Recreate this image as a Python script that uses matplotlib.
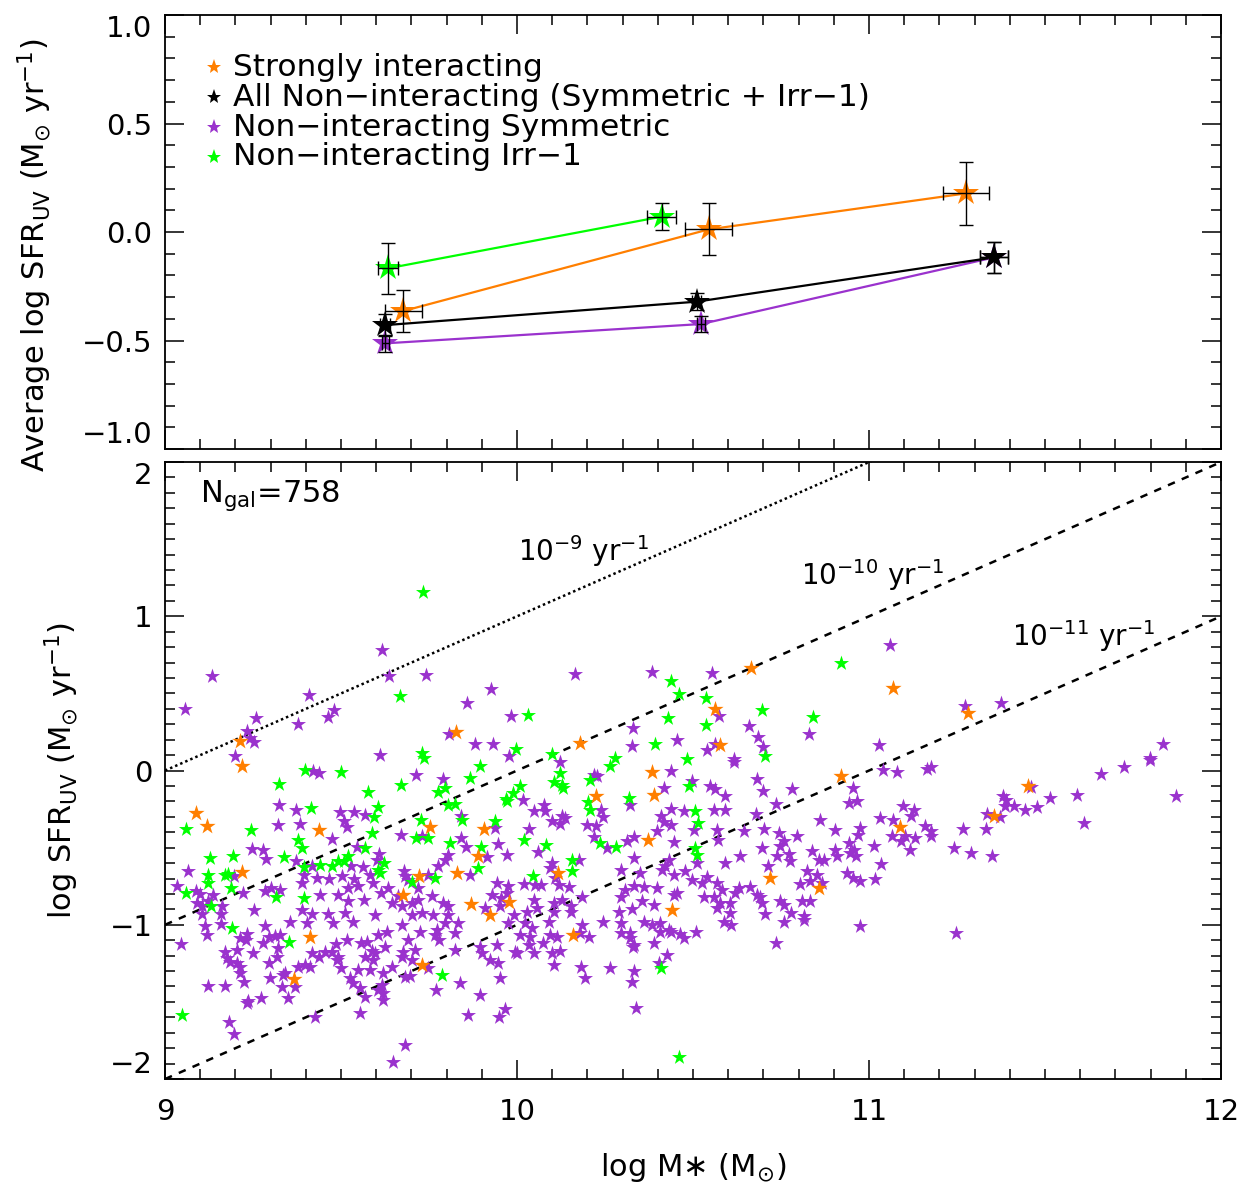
import matplotlib
matplotlib.use("Agg")
import matplotlib.pyplot as plt
import numpy as np

# ---- top panel: binned averages ----
int_mass = [9.677, 10.544, 11.275]
int_sfr = [-0.364, 0.012, 0.178]
int_xerr = [0.053, 0.066, 0.066]
int_yerr = [0.098, 0.12, 0.145]

all_mass = [9.625, 10.510, 11.355]
all_sfr = [-0.429, -0.321, -0.117]
all_xerr = [0.015, 0.012, 0.039]
all_yerr = [0.049, 0.04, 0.071]

sym_mass = [9.625, 10.523, 11.355]
sym_sfr = [-0.513, -0.424, -0.117]
sym_xerr = [0.01, 0.012, 0.039]
sym_yerr = [0.04, 0.038, 0.071]

irr_mass = [9.634, 10.411]
irr_sfr = [-0.167, 0.071]
irr_xerr = [0.028, 0.041]
irr_yerr = [0.118, 0.061]

# ---- bottom panel: individual galaxies (log M*, log SFR_UV) ----
gal_int = [
    (9.212, 0.192), (9.826, 0.249), (10.665, 0.662), (10.563, 0.396), (10.180, 0.179),
    (10.576, 0.166), (11.068, 0.536), (11.282, 0.370), (9.218, 0.032), (9.087, -0.275),
    (9.119, -0.359), (9.438, -0.383), (9.753, -0.366), (9.907, -0.379), (9.218, -0.660),
    (9.888, -0.552), (9.830, -0.664), (9.722, -0.686), (9.676, -0.805), (9.869, -0.864),
    (9.923, -0.935), (9.978, -0.853), (10.384, -0.007), (10.919, -0.033), (10.388, -0.156),
    (10.223, -0.163), (10.371, -0.448), (10.720, -0.697), (10.857, -0.762), (10.116, -0.665),
    (10.440, -0.907), (11.451, -0.098), (11.356, -0.293), (11.087, -0.366), (9.412, -1.076),
    (9.367, -1.353), (9.729, -1.260), (10.159, -1.065),
]

gal_irr = [
    (9.733, 1.156), (9.668, 0.482), (9.731, 0.114), (9.737, 0.082), (9.996, 0.140),
    (10.919, 0.699), (10.438, 0.580), (10.461, 0.497), (10.538, 0.469), (10.697, 0.391),
    (10.841, 0.348), (10.030, 0.357), (10.429, 0.342), (10.536, 0.296), (10.392, 0.175),
    (10.705, 0.093), (10.098, 0.106), (10.277, 0.082), (10.483, 0.075),
    (9.398, 0.002), (9.499, -0.011), (9.894, 0.028), (9.865, -0.048), (9.324, -0.084),
    (9.669, -0.091), (9.576, -0.139), (9.775, -0.139), (9.795, -0.113), (9.415, -0.242),
    (9.059, -0.379), (9.244, -0.388), (9.604, -0.236), (9.595, -0.301), (9.587, -0.405),
    (9.968, -0.184), (9.989, -0.145), (9.971, -0.199), (9.803, -0.221), (9.824, -0.214),
    (9.843, -0.318), (9.727, -0.318), (9.936, -0.329), (9.712, -0.437), (9.746, -0.439),
    (9.810, -0.470), (9.898, -0.496), (9.377, -0.448), (9.390, -0.502), (9.569, -0.502),
    (9.519, -0.556), (9.492, -0.589), (9.507, -0.584), (9.339, -0.561), (9.194, -0.556),
    (9.129, -0.567), (9.890, -0.632), (9.396, -0.626), (9.441, -0.610), (9.475, -0.621),
    (9.606, -0.643), (9.611, -0.664), (9.623, -0.600), (9.121, -0.675), (9.121, -0.729),
    (9.170, -0.675), (9.180, -0.669), (9.188, -0.762), (9.060, -0.794), (9.314, -0.820),
    (9.131, -0.881), (9.396, -0.827), (9.701, -0.725), (9.767, -0.697),
    (10.265, 0.032), (10.123, -0.016), (10.104, -0.076), (10.128, -0.091), (10.131, -0.113),
    (10.008, -0.102), (10.208, -0.059), (10.489, -0.098), (10.318, -0.178), (10.201, -0.206),
    (10.208, -0.254), (10.507, -0.265), (10.513, -0.340), (10.019, -0.448), (10.083, -0.481),
    (10.235, -0.470), (10.280, -0.496), (10.507, -0.503), (10.511, -0.546), (10.156, -0.578),
    (10.156, -0.654), (10.045, -0.682),
    (9.189, -1.022), (9.352, -1.109), (9.047, -1.583), (9.786, -1.325), (10.409, -1.278),
    (10.460, -1.860),
]

gal_sym = [
    (9.057, 0.396), (9.134, 0.616), (9.617, 0.781), (9.636, 0.612), (9.741, 0.621),
    (9.409, 0.493), (9.481, 0.391), (9.464, 0.348), (9.377, 0.305), (9.259, 0.339),
    (9.233, 0.257), (9.242, 0.210), (9.253, 0.184), (9.808, 0.240), (9.857, 0.435),
    (9.925, 0.530), (9.881, 0.175), (9.931, 0.171), (9.983, 0.352), (9.199, 0.093),
    (9.611, 0.101), (9.977, 0.097),
    (10.164, 0.629), (10.383, 0.642), (10.553, 0.634), (10.574, 0.352), (10.330, 0.274),
    (10.660, 0.292), (10.830, 0.236), (10.684, 0.218), (10.699, 0.153), (10.326, 0.158),
    (10.454, 0.197), (10.540, 0.136), (10.563, 0.175), (10.617, 0.075),
    (11.059, 0.813), (11.273, 0.417), (11.374, 0.435), (11.028, 0.164), (11.835, 0.173),
    (11.797, 0.082),
    (9.419, -0.004), (9.436, -0.015), (9.712, -0.026), (9.791, -0.054), (9.324, -0.221),
    (9.372, -0.253), (9.322, -0.351), (9.384, -0.344), (9.498, -0.270), (9.536, -0.270),
    (9.568, -0.286), (9.508, -0.329), (9.517, -0.366), (9.840, -0.292), (9.938, -0.372),
    (9.669, -0.416), (9.731, -0.422), (9.841, -0.437), (9.854, -0.496), (9.945, -0.474),
    (9.473, -0.444), (9.545, -0.496), (9.609, -0.541), (9.602, -0.582), (9.246, -0.509),
    (9.278, -0.517), (9.287, -0.574), (9.064, -0.654), (9.916, -0.561), (9.971, -0.545),
    (9.867, -0.675), (9.371, -0.589), (9.417, -0.621), (9.528, -0.617), (9.561, -0.626),
    (9.582, -0.675), (9.396, -0.675), (9.431, -0.697), (9.466, -0.703), (9.502, -0.686),
    (9.537, -0.703), (9.197, -0.682), (9.033, -0.747), (9.087, -0.784), (9.100, -0.799),
    (9.137, -0.805), (9.090, -0.859), (9.104, -0.881), (9.121, -0.848), (9.104, -0.929),
    (9.163, -0.881), (9.159, -0.929), (9.222, -0.794), (9.284, -0.784), (9.301, -0.762),
    (9.327, -0.777), (9.254, -0.903), (9.388, -0.729), (9.390, -0.903), (9.417, -0.929),
    (9.441, -0.805), (9.462, -0.929), (9.492, -0.805), (9.519, -0.762), (9.519, -0.848),
    (9.511, -0.924), (9.549, -0.751), (9.592, -0.729), (9.566, -0.838), (9.597, -0.935),
    (9.614, -0.794), (9.633, -0.762), (9.678, -0.654), (9.682, -0.686), (9.689, -0.708),
    (9.748, -0.675), (9.775, -0.621), (9.794, -0.578), (9.803, -0.545), (9.720, -0.762),
    (9.663, -0.816), (9.646, -0.859), (9.672, -0.881), (9.701, -0.859), (9.720, -0.838),
    (9.729, -0.924), (9.701, -0.935), (9.762, -0.935), (9.805, -0.935), (9.942, -0.729),
    (9.975, -0.751), (9.971, -0.794), (9.955, -0.827), (9.928, -0.805), (9.909, -0.892),
    (9.952, -0.881), (9.992, -0.935), (9.758, -0.816), (9.791, -0.859), (9.805, -0.881),
    (10.436, 0.000), (10.616, 0.054), (10.121, 0.054), (10.218, -0.026), (10.227, -0.033),
    (10.682, -0.055), (10.955, -0.113), (10.781, -0.119), (10.699, -0.135), (10.549, -0.102),
    (10.561, -0.119), (10.497, -0.070), (10.417, -0.113), (10.592, -0.163), (10.322, -0.221),
    (10.017, -0.189), (10.076, -0.221), (10.080, -0.265), (10.047, -0.265), (10.239, -0.254),
    (10.244, -0.301), (10.438, -0.249), (10.473, -0.265), (10.559, -0.258), (10.592, -0.258),
    (10.737, -0.215), (10.942, -0.210), (10.966, -0.200), (10.678, -0.280), (10.862, -0.323),
    (10.409, -0.293), (10.417, -0.336), (10.438, -0.351), (10.099, -0.329), (10.128, -0.297),
    (10.137, -0.308), (10.123, -0.345), (10.199, -0.351), (10.223, -0.362), (10.033, -0.379),
    (10.502, -0.388), (10.568, -0.384), (10.701, -0.379), (10.904, -0.388), (10.975, -0.373),
    (10.968, -0.416), (10.398, -0.394), (10.644, -0.394), (10.059, -0.531), (10.220, -0.431),
    (10.256, -0.503), (10.313, -0.459), (10.333, -0.431), (10.447, -0.461), (10.572, -0.448),
    (10.696, -0.503), (10.743, -0.405), (10.758, -0.459), (10.748, -0.492), (10.794, -0.427),
    (10.772, -0.539), (10.838, -0.524), (10.857, -0.578), (10.871, -0.578), (10.904, -0.513),
    (10.909, -0.557), (10.942, -0.470), (10.956, -0.513), (10.964, -0.557), (10.947, -0.535),
    (10.633, -0.552), (10.739, -0.557), (10.331, -0.568), (10.175, -0.578), (10.099, -0.600),
    (10.095, -0.632), (10.592, -0.600),
    (10.431, -0.578), (10.421, -0.622), (10.412, -0.643), (10.445, -0.676), (10.478, -0.654),
    (10.511, -0.600), (10.712, -0.622), (10.775, -0.589), (10.824, -0.654), (10.852, -0.676),
    (10.938, -0.665), (10.955, -0.697), (10.975, -0.719), (10.019, -0.734), (10.052, -0.741),
    (10.068, -0.741), (10.109, -0.697), (10.118, -0.741), (10.147, -0.752), (10.294, -0.648),
    (10.350, -0.665), (10.398, -0.762), (10.331, -0.747), (10.360, -0.752), (10.308, -0.773),
    (10.295, -0.817), (10.497, -0.708), (10.540, -0.687), (10.526, -0.730), (10.568, -0.730),
    (10.582, -0.773), (10.630, -0.762), (10.663, -0.752), (10.682, -0.806), (10.620, -0.795),
    (10.805, -0.734), (10.833, -0.719), (10.866, -0.730), (10.530, -0.817), (10.559, -0.817),
    (10.578, -0.860), (10.606, -0.860), (10.568, -0.892), (10.606, -0.925), (10.445, -0.806),
    (10.455, -0.795), (10.388, -0.871), (10.355, -0.849), (10.327, -0.899), (10.289, -0.914),
    (10.691, -0.817), (10.696, -0.860), (10.748, -0.849), (10.758, -0.871), (10.810, -0.849),
    (10.833, -0.849), (10.814, -0.946), (10.705, -0.929), (10.777, -0.925), (10.185, -0.821),
    (10.128, -0.838), (10.152, -0.881), (10.104, -0.860), (10.047, -0.838), (10.104, -0.914),
    (10.152, -0.914), (10.057, -0.892), (10.028, -0.914),
    (11.040, 0.002), (11.080, -0.007), (11.166, 0.010), (11.175, 0.023), (11.660, -0.020),
    (11.724, 0.023), (11.797, 0.071), (11.459, -0.107), (11.873, -0.167), (11.590, -0.158),
    (11.513, -0.178), (11.381, -0.167), (11.390, -0.193), (11.386, -0.228), (11.412, -0.228),
    (11.443, -0.254), (11.478, -0.239), (11.336, -0.280), (11.371, -0.301), (11.612, -0.340),
    (11.097, -0.232), (11.128, -0.258), (11.118, -0.297), (11.030, -0.310), (11.068, -0.319),
    (11.159, -0.362), (11.175, -0.394), (11.175, -0.423), (11.267, -0.379), (11.331, -0.379),
    (11.066, -0.423), (11.090, -0.459), (11.102, -0.427), (11.131, -0.438), (11.116, -0.513),
    (11.014, -0.487), (11.242, -0.503), (11.291, -0.535), (11.350, -0.557), (11.033, -0.604),
    (11.017, -0.704),
    (9.045, -1.124), (9.114, -1.011), (9.118, -1.065), (9.159, -0.994), (9.170, -1.174),
    (9.175, -1.217), (9.185, -1.239), (9.204, -1.163), (9.213, -1.087), (9.232, -1.059),
    (9.229, -1.098), (9.204, -1.249), (9.213, -1.314), (9.223, -1.368), (9.213, -1.271),
    (9.123, -1.397), (9.169, -1.397), (9.232, -1.505), (9.237, -1.492), (9.273, -1.477),
    (9.182, -1.628), (9.197, -1.708), (9.251, -1.184), (9.279, -1.120), (9.294, -1.076),
    (9.313, -1.072), (9.327, -1.065), (9.322, -1.152), (9.317, -1.206), (9.295, -1.249),
    (9.298, -1.347), (9.336, -1.325), (9.341, -1.314), (9.333, -1.401), (9.348, -1.477),
    (9.369, -1.401), (9.379, -1.271), (9.398, -1.260), (9.412, -1.271), (9.417, -1.184),
    (9.436, -1.206), (9.455, -1.174), (9.473, -1.174), (9.485, -1.124), (9.492, -1.206),
    (9.500, -1.282), (9.488, -1.228), (9.516, -1.098), (9.526, -1.347), (9.535, -1.379),
    (9.547, -1.293), (9.568, -1.466), (9.554, -1.412), (9.554, -1.570), (9.557, -1.120),
    (9.573, -1.109), (9.587, -1.167), (9.597, -1.184), (9.582, -1.293), (9.592, -1.228),
    (9.568, -1.206), (9.606, -1.065), (9.630, -1.044), (9.625, -1.141), (9.620, -1.314),
    (9.616, -1.390), (9.620, -1.444), (9.620, -1.487), (9.606, -1.423), (9.644, -1.271),
    (9.677, -1.174), (9.672, -1.206), (9.701, -1.228), (9.710, -1.163), (9.724, -1.050),
    (9.691, -1.098), (9.672, -1.000), (9.696, -1.332), (9.682, -1.340), (9.748, -1.282),
    (9.769, -1.423), (9.682, -1.780), (9.649, -1.888), (9.767, -1.065), (9.772, -1.033),
    (9.777, -1.098), (9.795, -0.990), (9.824, -1.055), (9.833, -0.990), (9.824, -1.163),
    (9.838, -1.379), (9.895, -1.455), (9.860, -1.585), (9.895, -1.141), (9.900, -1.184),
    (9.923, -1.228), (9.942, -1.130), (9.947, -1.249), (9.952, -1.347), (9.966, -1.548),
    (9.949, -1.596), (9.994, -1.174), (9.975, -0.990), (9.426, -1.596), (9.402, -0.990),
    (9.478, -0.990), (9.535, -0.979), (9.355, -0.979), (9.284, -1.011),
    (10.327, -1.368), (10.333, -1.297), (10.192, -1.347), (10.182, -1.271), (10.263, -1.282),
    (10.426, -1.195), (10.402, -1.249), (10.104, -1.260), (10.099, -1.184), (10.123, -1.167),
    (10.047, -1.184), (10.074, -1.115), (10.033, -1.130), (10.038, -1.076), (10.008, -1.065),
    (10.043, -1.022), (10.024, -0.990), (10.090, -0.979), (10.095, -1.065), (10.114, -1.076),
    (10.180, -1.055), (10.185, -1.000), (10.204, -1.081), (10.244, -0.985), (10.294, -0.990),
    (10.294, -1.055), (10.322, -1.055), (10.322, -1.087), (10.331, -1.130), (10.330, -1.145),
    (10.360, -0.985), (10.384, -1.000), (10.407, -0.990), (10.405, -1.044), (10.390, -1.115),
    (10.431, -1.033), (10.438, -1.050), (10.462, -1.059), (10.473, -1.087), (10.508, -1.050),
    (10.587, -0.985), (10.608, -1.000), (10.737, -1.115), (10.758, -0.979), (10.816, -0.968),
    (10.975, -1.007), (10.000, -1.184), (10.339, -1.542), (11.248, -1.055),
]

ssfr_lines = [-9, -10, -11]
n_gal = 758

c_int = '#FF7F00'
c_all = 'black'
c_sym = '#9A32CD'
c_irr = '#00FF00'

plt.rcParams['font.family'] = 'DejaVu Sans'
plt.rcParams['mathtext.fontset'] = 'dejavusans'

fig = plt.figure(figsize=(12.58, 11.86), dpi=100)
ax1 = fig.add_axes([0.1312, 0.6214, 0.8394, 0.3659])
ax2 = fig.add_axes([0.1312, 0.0902, 0.8394, 0.5202])

fs = 21

# top panel
for m, s, xe, ye, c in [(irr_mass, irr_sfr, irr_xerr, irr_yerr, c_irr),
                        (int_mass, int_sfr, int_xerr, int_yerr, c_int),
                        (sym_mass, sym_sfr, sym_xerr, sym_yerr, c_sym),
                        (all_mass, all_sfr, all_xerr, all_yerr, c_all)]:
    ax1.plot(m, s, '-', color=c, lw=1.6, zorder=2)
    ax1.plot(m, s, '*', color=c, ms=20, mew=0, zorder=3)
    ax1.errorbar(m, s, xerr=xe, yerr=ye, fmt='none', ecolor='black',
                 elinewidth=1, capsize=5, capthick=1, zorder=4)

leg = [('Strongly interacting', c_int),
       ('All Non\u2212interacting (Symmetric + Irr\u22121)', c_all),
       ('Non\u2212interacting Symmetric', c_sym),
       ('Non\u2212interacting Irr\u22121', c_irr)]
for i, (lab, c) in enumerate(leg):
    yy = 0.880 - 0.069 * i
    ax1.plot(0.046, yy, '*', color=c, ms=11, mew=0, transform=ax1.transAxes)
    ax1.text(0.064, yy, lab, transform=ax1.transAxes, va='center', fontsize=22.5)

ax1.set_xlim(9, 12)
ax1.set_ylim(-1, 1)
ax1.set_yticks([-1, -0.5, 0, 0.5, 1])
ax1.set_yticklabels(['\u22121.0', '\u22120.5', '0.0', '0.5', '1.0'])
ax1.set_yticks(np.arange(-1, 1.01, 0.1), minor=True)
ax1.set_xticks([9, 10, 11, 12])
ax1.set_xticks(np.arange(9, 12.01, 0.1), minor=True)
ax1.tick_params(labelbottom=False)
ax1.set_ylabel('Average log SFR$_{\\mathregular{UV}}$ (M$_{\\odot}$ yr$^{-1}$)', fontsize=22)
ax1.yaxis.set_label_coords(-0.105, 0.447)

# bottom panel
xs = np.array([9.0, 12.0])
for k, ls in zip(ssfr_lines, [(0, (1, 1.2)), (0, (3, 3)), (0, (3, 3))]):
    ax2.plot(xs, xs + k, color='black', lw=1.8, linestyle=ls, zorder=1)

ax2.scatter([p[0] for p in gal_sym], [p[1] for p in gal_sym], marker='*', s=130,
            color=c_sym, linewidths=0, zorder=2)
ax2.scatter([p[0] for p in gal_irr], [p[1] for p in gal_irr], marker='*', s=130,
            color=c_irr, linewidths=0, zorder=3)
ax2.scatter([p[0] for p in gal_int], [p[1] for p in gal_int], marker='*', s=150,
            color=c_int, linewidths=0, zorder=4)

ax2.text(10.19, 1.42, '10$^{-9}$ yr$^{-1}$', fontsize=20, ha='center', va='center')
ax2.text(11.01, 1.27, '10$^{-10}$ yr$^{-1}$', fontsize=20, ha='center', va='center')
ax2.text(11.61, 0.87, '10$^{-11}$ yr$^{-1}$', fontsize=20, ha='center', va='center')
ax2.text(9.10, 1.78, 'N$_{\\mathregular{gal}}$=%d' % n_gal, fontsize=22, ha='left', va='center')

ax2.set_xlim(9, 12)
ax2.set_ylim(-2, 2)
ax2.set_yticks([-2, -1, 0, 1, 2])
ax2.set_yticklabels(['\u22122', '\u22121', '0', '1', '2'])
ax2.set_yticks(np.arange(-2, 2.01, 0.1), minor=True)
ax2.set_xticks([9, 10, 11, 12])
ax2.set_xticks(np.arange(9, 12.01, 0.1), minor=True)
ax2.set_xlabel('log M$\\ast$ (M$_{\\odot}$)', fontsize=22, labelpad=18)
ax2.set_ylabel('log SFR$_{\\mathregular{UV}}$ (M$_{\\odot}$ yr$^{-1}$)', fontsize=22)
ax2.yaxis.set_label_coords(-0.080, 0.5)

for ax in (ax1, ax2):
    for sp in ax.spines.values():
        sp.set_linewidth(1.3)
    ax.tick_params(which='both', direction='in', top=True, right=True, labelsize=fs, width=1.1)
    ax.tick_params(which='major', length=14, pad=9)
    ax.tick_params(which='minor', length=7)
    ax.tick_params(axis='x', which='major', pad=14)
    lbls = ax.get_yticklabels()
    lbls[0].set_va('bottom')
    lbls[-1].set_va('top')

fig.savefig('out.png', dpi=100, facecolor='white')
